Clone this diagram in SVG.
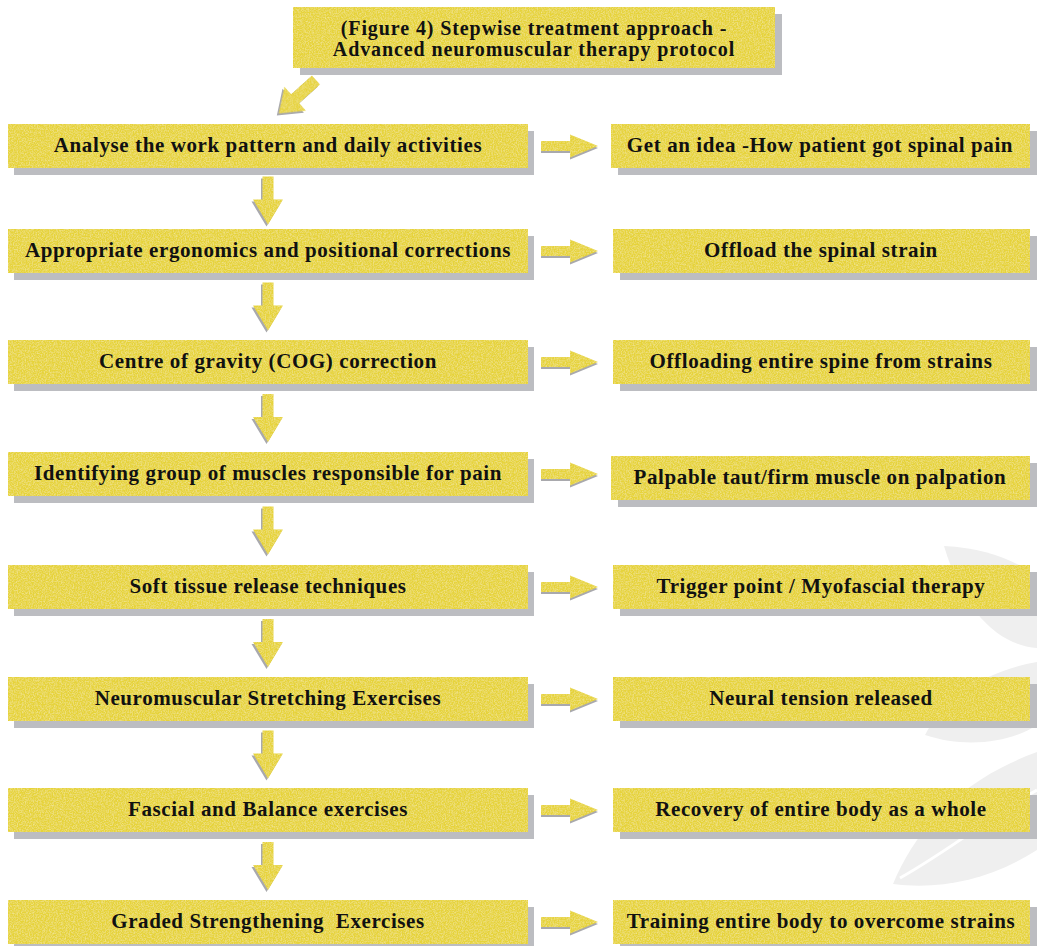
<svg xmlns="http://www.w3.org/2000/svg" width="1037" height="946" viewBox="0 0 1037 946">
<defs>
<filter id="tex" x="0" y="0" width="100%" height="100%">
<feTurbulence type="fractalNoise" baseFrequency="0.75" numOctaves="2" seed="4" result="n"/>
<feColorMatrix in="n" type="matrix" values="0 0 0 0 1  0 0 0 0 0.95  0 0 0 0 0.55  0.9 0 0 0 -0.35" result="spots"/>
<feComposite in="spots" in2="SourceGraphic" operator="in" result="s2"/>
<feMerge><feMergeNode in="SourceGraphic"/><feMergeNode in="s2"/></feMerge>
</filter>
<path id="down" d="M-5.5,0 H5.5 V23 H15 L0,48 L-15,23 H-5.5 Z"/>
<path id="right" d="M0,-5 H29 V-11.5 L57,0 L29,11.5 V5 H0 Z"/>
<path id="diag" d="M0,-6 H28 V-16 L50,0 L28,16 V6 H0 Z"/>
</defs>
<style>
.box{fill:#e6d33a;filter:url(#tex)}
.shd{fill:#bcbdc1}
.arr{fill:#e6d33a;filter:url(#tex)}
.ash{fill:#a9a9ad}
.leaf{fill:#efefef}
text{font-family:"Liberation Serif","Times New Roman",serif;font-weight:bold;font-size:21px;letter-spacing:0.6px;fill:#111;text-anchor:middle;white-space:pre}
.tt{font-size:20px;letter-spacing:0.9px}
</style>
<rect width="1037" height="946" fill="#ffffff"/>
<g id="background">
<path class="leaf" d="M944,546 C990,548 1025,565 1037,578 L1037,648 C1000,645 965,615 944,546 Z"/>
<path class="leaf" d="M1037,662 C990,670 945,695 925,735 C970,750 1015,740 1037,725 Z"/>
<path class="leaf" d="M893,884 C915,830 960,780 1037,752 L1037,850 C990,880 940,890 893,884 Z"/>
<path d="M900,878 C950,850 1000,810 1037,790" fill="none" stroke="#ffffff" stroke-width="3"/>
</g>
<g id="title">
<rect class="shd" x="300" y="14" width="482" height="61"/>
<rect class="box" x="293" y="7" width="482" height="61"/>
<text class="tt" x="534" y="35">(Figure 4) Stepwise treatment approach -</text>
<text class="tt" x="534" y="56">Advanced neuromuscular therapy protocol</text>
</g>
<g id="connectors">
<use href="#diag" class="ash" transform="translate(314,82) rotate(138)"/>
<use href="#diag" class="arr" transform="translate(316,80) rotate(138)"/>
<use href="#down" class="ash" transform="translate(266.5,178.5)"/>
<use href="#down" class="arr" transform="translate(268,176.5)"/>
<use href="#down" class="ash" transform="translate(266.5,284.5)"/>
<use href="#down" class="arr" transform="translate(268,282.5)"/>
<use href="#down" class="ash" transform="translate(266.5,396)"/>
<use href="#down" class="arr" transform="translate(268,394)"/>
<use href="#down" class="ash" transform="translate(266.5,508.5)"/>
<use href="#down" class="arr" transform="translate(268,506.5)"/>
<use href="#down" class="ash" transform="translate(266.5,621)"/>
<use href="#down" class="arr" transform="translate(268,619)"/>
<use href="#down" class="ash" transform="translate(266.5,732.5)"/>
<use href="#down" class="arr" transform="translate(268,730.5)"/>
<use href="#down" class="ash" transform="translate(266.5,844)"/>
<use href="#down" class="arr" transform="translate(268,842)"/>
<use href="#right" class="ash" transform="translate(541,148)"/>
<use href="#right" class="arr" transform="translate(541,146)"/>
<use href="#right" class="ash" transform="translate(541,253)"/>
<use href="#right" class="arr" transform="translate(541,251)"/>
<use href="#right" class="ash" transform="translate(541,364)"/>
<use href="#right" class="arr" transform="translate(541,362)"/>
<use href="#right" class="ash" transform="translate(541,476)"/>
<use href="#right" class="arr" transform="translate(541,474)"/>
<use href="#right" class="ash" transform="translate(541,589)"/>
<use href="#right" class="arr" transform="translate(541,587)"/>
<use href="#right" class="ash" transform="translate(541,701)"/>
<use href="#right" class="arr" transform="translate(541,699)"/>
<use href="#right" class="ash" transform="translate(541,812)"/>
<use href="#right" class="arr" transform="translate(541,810)"/>
<use href="#right" class="ash" transform="translate(541,924)"/>
<use href="#right" class="arr" transform="translate(541,922)"/>
</g>
<g id="step1"><rect class="shd" x="14" y="131" width="520" height="44"/><rect class="box" x="8" y="124" width="520" height="44"/><text x="268" y="152">Analyse the work pattern and daily activities</text></g>
<g id="out1"><rect class="shd" x="618" y="131" width="419" height="44"/><rect class="box" x="611" y="124" width="419" height="44"/><text x="820" y="152">Get an idea -How patient got spinal pain</text></g>
<g id="step2"><rect class="shd" x="14" y="236" width="520" height="44"/><rect class="box" x="8" y="229" width="520" height="44"/><text x="268" y="257">Appropriate ergonomics and positional corrections</text></g>
<g id="out2"><rect class="shd" x="620" y="236" width="417" height="44"/><rect class="box" x="613" y="229" width="417" height="44"/><text x="821" y="257">Offload the spinal strain</text></g>
<g id="step3"><rect class="shd" x="14" y="347" width="520" height="44"/><rect class="box" x="8" y="340" width="520" height="44"/><text x="268" y="368">Centre of gravity (COG) correction</text></g>
<g id="out3"><rect class="shd" x="620" y="347" width="417" height="44"/><rect class="box" x="613" y="340" width="417" height="44"/><text x="821" y="368">Offloading entire spine from strains</text></g>
<g id="step4"><rect class="shd" x="14" y="459" width="520" height="44"/><rect class="box" x="8" y="452" width="520" height="44"/><text x="268" y="480">Identifying group of muscles responsible for pain</text></g>
<g id="out4"><rect class="shd" x="618" y="463" width="419" height="44"/><rect class="box" x="611" y="456" width="419" height="44"/><text x="820" y="484">Palpable taut/firm muscle on palpation</text></g>
<g id="step5"><rect class="shd" x="14" y="572" width="520" height="44"/><rect class="box" x="8" y="565" width="520" height="44"/><text x="268" y="593">Soft tissue release techniques</text></g>
<g id="out5"><rect class="shd" x="620" y="572" width="417" height="44"/><rect class="box" x="613" y="565" width="417" height="44"/><text x="821" y="593">Trigger point / Myofascial therapy</text></g>
<g id="step6"><rect class="shd" x="14" y="684" width="520" height="44"/><rect class="box" x="8" y="677" width="520" height="44"/><text x="268" y="705">Neuromuscular Stretching Exercises</text></g>
<g id="out6"><rect class="shd" x="620" y="684" width="417" height="44"/><rect class="box" x="613" y="677" width="417" height="44"/><text x="821" y="705">Neural tension released</text></g>
<g id="step7"><rect class="shd" x="14" y="795" width="520" height="44"/><rect class="box" x="8" y="788" width="520" height="44"/><text x="268" y="816">Fascial and Balance exercises</text></g>
<g id="out7"><rect class="shd" x="620" y="795" width="417" height="44"/><rect class="box" x="613" y="788" width="417" height="44"/><text x="821" y="816">Recovery of entire body as a whole</text></g>
<g id="step8"><rect class="shd" x="14" y="907" width="520" height="44"/><rect class="box" x="8" y="900" width="520" height="44"/><text x="268" y="928">Graded Strengthening  Exercises</text></g>
<g id="out8"><rect class="shd" x="620" y="907" width="417" height="44"/><rect class="box" x="613" y="900" width="417" height="44"/><text x="821" y="928">Training entire body to overcome strains</text></g>
</svg>
